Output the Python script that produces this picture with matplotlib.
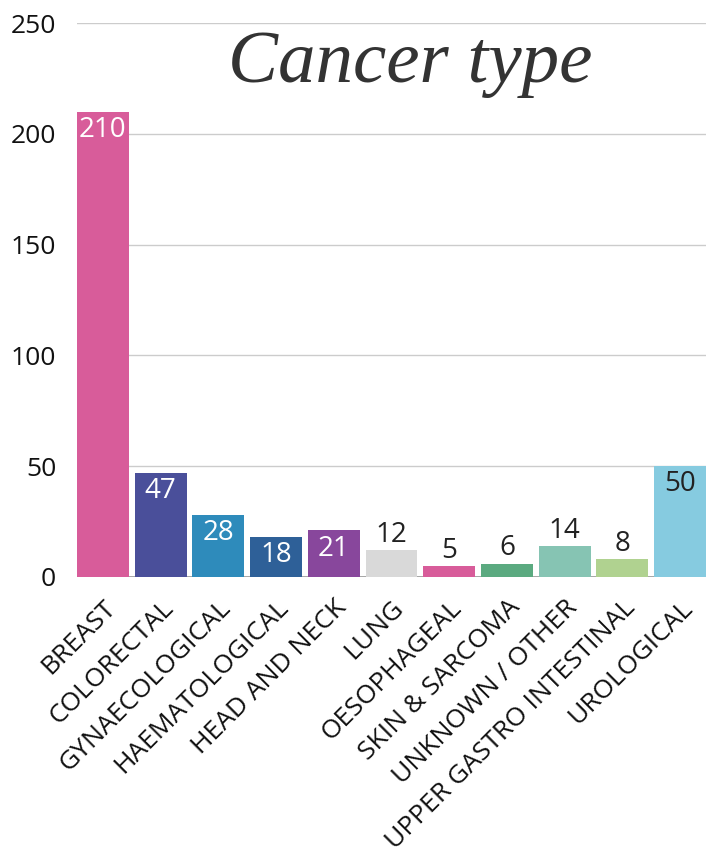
import matplotlib
matplotlib.use("Agg")
import matplotlib.pyplot as plt

categories = ['BREAST', 'COLORECTAL', 'GYNAECOLOGICAL', 'HAEMATOLOGICAL', 'HEAD AND NECK',
              'LUNG', 'OESOPHAGEAL', 'SKIN & SARCOMA', 'UNKNOWN / OTHER',
              'UPPER GASTRO INTESTINAL', 'UROLOGICAL']
counts = [210, 47, 28, 18, 21, 12, 5, 6, 14, 8, 50]
colors = ['#D85C9A', '#4A4F9A', '#2E8BBB', '#2E6098', '#88479C', '#D9D9D9',
          '#D85C9A', '#5BAA80', '#86C4B3', '#B0D290', '#86CBE0']
# label inside (white/black) or above the bar
label_inside = [True, True, True, True, True, False, False, False, False, False, True]
label_color = ['white'] * 5 + ['#222222'] * 6
yticks = [0, 50, 100, 150, 200, 250]

plt.rcParams['font.family'] = ['Open Sans', 'DejaVu Sans']

fig = plt.figure(figsize=(7.06, 8.52), dpi=100)
ax = fig.add_axes([0.109, 0.3228, 0.891, 0.650])

x = range(len(categories))
bars = ax.bar(x, counts, width=0.9, color=colors, zorder=3)

for i, b in enumerate(bars):
    h = b.get_height()
    if label_inside[i]:
        ax.annotate(str(counts[i]), (b.get_x() + b.get_width() / 2, h), xytext=(0, -3),
                    textcoords='offset points', ha='center', va='top',
                    fontsize=20, color=label_color[i], zorder=4)
    else:
        ax.annotate(str(counts[i]), (b.get_x() + b.get_width() / 2, h), xytext=(0, 1),
                    textcoords='offset points', ha='center', va='bottom',
                    fontsize=20, color=label_color[i], zorder=4)

ax.set_ylim(0, 250)
ax.set_xlim(-0.45, 10.45)
ax.set_yticks(yticks)
ax.set_yticklabels([str(v) for v in yticks], fontsize=19, color='#111111')
ax.set_xticks(list(x))
ax.set_xticklabels(categories, rotation=45, ha='right', rotation_mode='anchor',
                   fontsize=19, color='#111111')
ax.tick_params(axis='both', length=0)
ax.tick_params(axis='y', pad=15)
ax.tick_params(axis='x', pad=13)

ax.grid(axis='y', color='#CCCCCC', linewidth=1, zorder=0)
for s in ax.spines.values():
    s.set_visible(False)
ax.axhline(0, color='#999999', linewidth=1.2, zorder=2)

ax.text(0.53, 0.925, 'Cancer type', transform=ax.transAxes, ha='center', va='center',
        fontsize=54, family='Liberation Serif', style='italic', color='#333333', zorder=5)

fig.savefig('out.png', dpi=100)
